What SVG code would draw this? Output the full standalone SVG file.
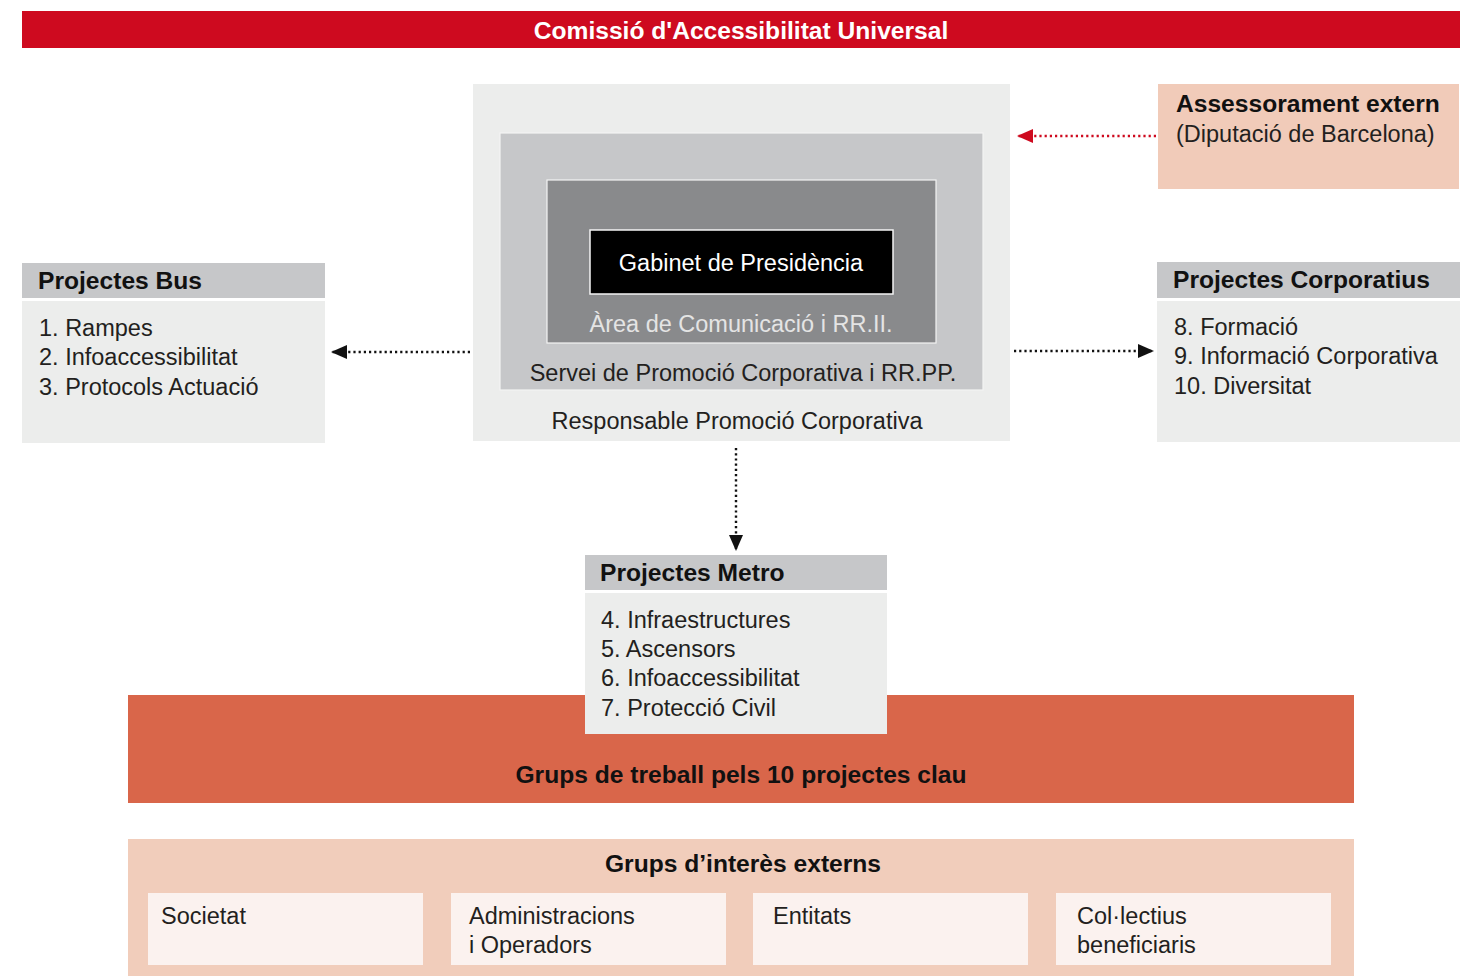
<svg xmlns="http://www.w3.org/2000/svg" width="1468" height="976" viewBox="0 0 1468 976">
<style>
.reg{font-family:"Liberation Sans",Arial,sans-serif;font-size:23.5px;fill:#231f20}
.bold{font-family:"Liberation Sans",Arial,sans-serif;font-size:24.6px;font-weight:bold;fill:#111}
.hdr{fill:#c6c7c9}
.body{fill:#ecedec}
.conn{fill:none;stroke:#111;stroke-width:2.4;stroke-dasharray:2.2 3}
.red{stroke:#ce0a1f}
.sub{fill:#fbf2ef}
</style>
<defs>
<marker id="ah" markerUnits="userSpaceOnUse" markerWidth="16" markerHeight="14" refX="15" refY="7" orient="auto">
<path d="M0,0 L16,7 L0,14 z" fill="#111"/>
</marker>
<marker id="ahr" markerUnits="userSpaceOnUse" markerWidth="16" markerHeight="14" refX="15" refY="7" orient="auto">
<path d="M0,0 L16,7 L0,14 z" fill="#ce0a1f"/>
</marker>
</defs>
<rect width="1468" height="976" fill="#ffffff"/>

<g id="title">
<rect x="22" y="11" width="1438" height="37" fill="#ce0a1f"/>
<text x="741" y="39" text-anchor="middle" class="bold" style="fill:#fff">Comissió d'Accessibilitat Universal</text>
</g>

<g id="responsable">
<rect x="473" y="84" width="537" height="357" fill="#ecedec"/>
<text x="737" y="429" text-anchor="middle" class="reg">Responsable Promoció Corporativa</text>
</g>
<g id="servei">
<rect x="500" y="133" width="483" height="257" fill="#c6c7c9" stroke="#f4f4f4" stroke-width="1.2"/>
<text x="743" y="381" text-anchor="middle" class="reg">Servei de Promoció Corporativa i RR.PP.</text>
</g>
<g id="area">
<rect x="547" y="180" width="389" height="163" fill="#898a8c" stroke="#f4f4f4" stroke-width="1.2"/>
<text x="741" y="332" text-anchor="middle" class="reg" style="fill:#e4e4e4">Àrea de Comunicació i RR.II.</text>
</g>
<g id="gabinet">
<rect x="590" y="230" width="303" height="64" fill="#000" stroke="#f4f4f4" stroke-width="1.5"/>
<text x="741" y="271" text-anchor="middle" class="reg" style="fill:#fff">Gabinet de Presidència</text>
</g>

<g id="assessorament">
<rect x="1158" y="84" width="301" height="105" fill="#f1cbb9"/>
<text x="1176" y="112" class="bold">Assessorament extern</text>
<text x="1176" y="142" class="reg">(Diputació de Barcelona)</text>
</g>

<g id="bus">
<rect x="22" y="263" width="303" height="35" class="hdr"/>
<rect x="22" y="301" width="303" height="142" class="body"/>
<text x="38" y="289" class="bold">Projectes Bus</text>
<text x="39" y="336" class="reg">1. Rampes</text>
<text x="39" y="365" class="reg">2. Infoaccessibilitat</text>
<text x="39" y="395" class="reg">3. Protocols Actuació</text>
</g>

<g id="corporatius">
<rect x="1157" y="262" width="303" height="36" class="hdr"/>
<rect x="1157" y="301" width="303" height="141" class="body"/>
<text x="1173" y="288" class="bold">Projectes Corporatius</text>
<text x="1174" y="335" class="reg">8. Formació</text>
<text x="1174" y="364" class="reg">9. Informació Corporativa</text>
<text x="1174" y="394" class="reg">10. Diversitat</text>
</g>

<g id="grups-treball">
<rect x="128" y="695" width="1226" height="108" fill="#d9664a"/>
<text x="741" y="783" text-anchor="middle" class="bold">Grups de treball pels 10 projectes clau</text>
</g>

<g id="metro">
<rect x="585" y="555" width="302" height="35" class="hdr"/>
<rect x="585" y="593" width="302" height="141" class="body"/>
<text x="600" y="581" class="bold">Projectes Metro</text>
<text x="601" y="628" class="reg">4. Infraestructures</text>
<text x="601" y="657" class="reg">5. Ascensors</text>
<text x="601" y="686" class="reg">6. Infoaccessibilitat</text>
<text x="601" y="716" class="reg">7. Protecció Civil</text>
</g>

<g id="grups-interes">
<rect x="128" y="839" width="1226" height="137" fill="#f1cdbb"/>
<text x="743" y="872" text-anchor="middle" class="bold">Grups d’interès externs</text>
</g>
<g id="societat">
<rect x="148" y="893" width="275" height="72" class="sub"/>
<text x="161" y="924" class="reg">Societat</text>
</g>
<g id="administracions">
<rect x="451" y="893" width="275" height="72" class="sub"/>
<text x="469" y="924" class="reg">Administracions</text>
<text x="469" y="953" class="reg">i Operadors</text>
</g>
<g id="entitats">
<rect x="753" y="893" width="275" height="72" class="sub"/>
<text x="773" y="924" class="reg">Entitats</text>
</g>
<g id="collectius">
<rect x="1056" y="893" width="275" height="72" class="sub"/>
<text x="1077" y="924" class="reg">Col·lectius</text>
<text x="1077" y="953" class="reg">beneficiaris</text>
</g>

<g id="connectors">
<line x1="1156" y1="136" x2="1018" y2="136" class="conn red" marker-end="url(#ahr)"/>
<line x1="470" y1="352" x2="332" y2="352" class="conn" marker-end="url(#ah)"/>
<line x1="1014" y1="351" x2="1153" y2="351" class="conn" marker-end="url(#ah)"/>
<line x1="736" y1="448" x2="736" y2="550" class="conn" marker-end="url(#ah)"/>
</g>
</svg>
